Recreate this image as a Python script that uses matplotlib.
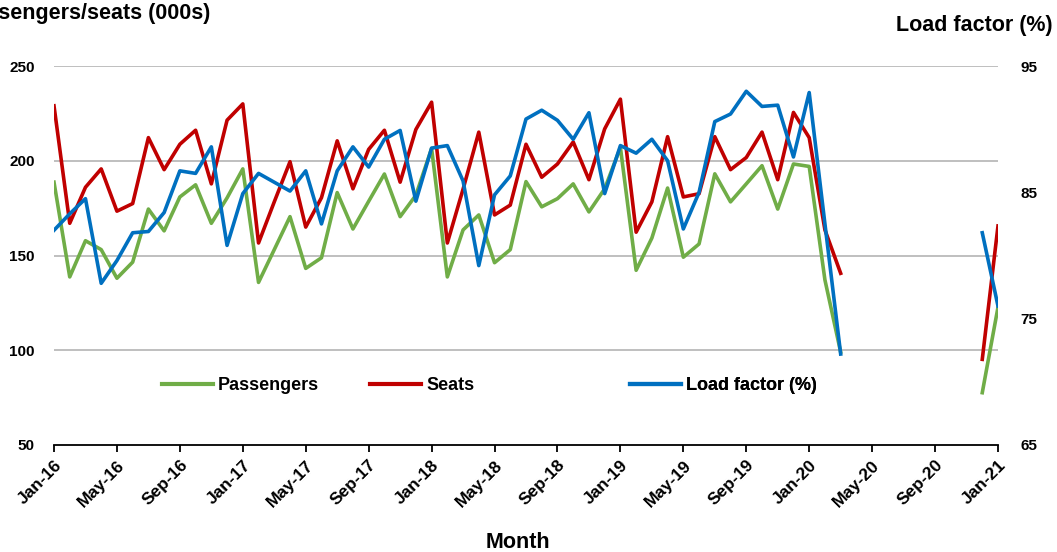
import matplotlib
matplotlib.use("Agg")
import matplotlib.pyplot as plt
import numpy as np

plt.rcParams['font.family'] = ['Liberation Sans', 'DejaVu Sans']
plt.rcParams['font.weight'] = 'bold'

# monthly, Jan-16 .. Jan-21 (Apr-20 .. Nov-20 missing)
months = ['Jan-16', 'May-16', 'Sep-16', 'Jan-17', 'May-17', 'Sep-17', 'Jan-18', 'May-18',
          'Sep-18', 'Jan-19', 'May-19', 'Sep-19', 'Jan-20', 'May-20', 'Sep-20', 'Jan-21']
gap = [np.nan] * 8

passengers = [188.7, 138.7, 157.8, 153.1, 138.0, 146.5, 174.5, 163.0, 180.9, 187.3, 167.0, 180.4,
              195.7, 135.8, 153.1, 170.5, 143.2, 148.8, 183.2, 164.0, 178.6, 193.0, 170.5, 181.8,
              206.5, 138.7, 163.5, 171.4, 146.2, 153.1, 189.0, 175.7, 180.0, 187.8, 173.0, 185.2,
              207.0, 142.2, 159.2, 185.6, 149.1, 156.1, 193.1, 178.3, 187.8, 197.4, 174.5, 198.3,
              197.0, 137.1, 99.0] + gap + [77.6, 122.7]
seats = [229.0, 167.0, 186.0, 195.7, 173.4, 177.4, 212.2, 195.3, 208.7, 216.1, 187.8, 221.4,
         230.0, 156.6, 178.3, 199.5, 165.0, 180.5, 210.5, 185.2, 206.0, 216.1, 188.7, 216.5,
         230.9, 156.6, 185.0, 215.1, 171.4, 176.6, 208.7, 191.3, 198.3, 209.9, 190.0, 216.8,
         232.5, 162.3, 178.3, 212.7, 180.9, 182.6, 212.7, 195.3, 201.7, 215.1, 190.0, 225.5,
         212.2, 163.5, 140.6] + gap + [95.2, 165.6]
load_factor = [82.0, 83.3, 84.5, 77.8, 79.6, 81.8, 81.9, 83.4, 86.7, 86.5, 88.6, 80.8,
               84.9, 86.5, 85.8, 85.1, 86.7, 82.5, 86.7, 88.6, 87.0, 89.2, 89.9, 84.3,
               88.5, 88.7, 85.9, 79.2, 84.8, 86.3, 90.8, 91.5, 90.7, 89.2, 91.3, 84.9,
               88.7, 88.1, 89.2, 87.5, 82.1, 85.0, 90.6, 91.2, 93.0, 91.8, 91.9, 87.8,
               92.9, 82.5, 72.2] + gap + [81.8, 76.0]

x = np.arange(len(seats))

fig = plt.figure(figsize=(10.57, 5.52), dpi=100)
ax = fig.add_axes([54 / 1057, 1 - 445 / 552, 944 / 1057, 379 / 552])
ax2 = ax.twinx()

green = '#70AD47'
red = '#C00000'
blue = '#0070C0'

l1, = ax.plot(x, passengers, color=green, lw=2.6, label='Passengers')
l2, = ax.plot(x, seats, color=red, lw=2.6, label='Seats')
l3, = ax2.plot(x, load_factor, color=blue, lw=2.6, label='Load factor (%)')

ax.set_xlim(0, 60)
ax.set_ylim(50, 250)
ax.set_yticks([50, 100, 150, 200, 250])
ax2.set_ylim(65, 95)
ax2.set_yticks([65, 75, 85, 95])

for v in [100, 150, 200, 250]:
    ax.axhline(v, color='#BFBFBF', lw=1.4, zorder=0)

ax.set_xticks(np.arange(0, 61, 4))
ax.set_xticklabels(months, rotation=45, ha='right', rotation_mode='anchor')

for a in (ax, ax2):
    for s in ['top', 'left', 'right']:
        a.spines[s].set_visible(False)
ax2.spines['bottom'].set_visible(False)
ax.spines['bottom'].set_linewidth(1.3)
ax.spines['bottom'].set_color('black')

ax.tick_params(axis='x', direction='out', length=5, width=1.3, pad=4, labelsize=12.5)
ax.tick_params(axis='y', length=0, pad=14, labelsize=11)
ax2.tick_params(axis='y', length=0, pad=16, labelsize=11)

# legend entries placed individually
for h, xpos in [(l1, 162), (l2, 370), (l3, 630)]:
    leg = ax.legend([h], [h.get_label()], loc='center left', frameon=False,
                    bbox_to_anchor=((xpos - 54) / 944, (445 - 386) / 379),
                    handlelength=2.8, handletextpad=0.3, borderaxespad=0, borderpad=0,
                    prop={'size': 13, 'weight': 'bold'})
    for line in leg.get_lines():
        line.set_linewidth(3)
    ax.add_artist(leg)

fig.text(210 / 1057, 1 - 14 / 552, 'Passengers/seats (000s)', ha='right', va='center',
         fontsize=15.5, fontweight='bold')
fig.text(1053 / 1057, 1 - 25 / 552, 'Load factor (%)', ha='right', va='center',
         fontsize=15.5, fontweight='bold')
fig.text(518 / 1057, 1 - 543 / 552, 'Month', ha='center', va='center',
         fontsize=15.5, fontweight='bold')

fig.savefig('out.png', dpi=100)
